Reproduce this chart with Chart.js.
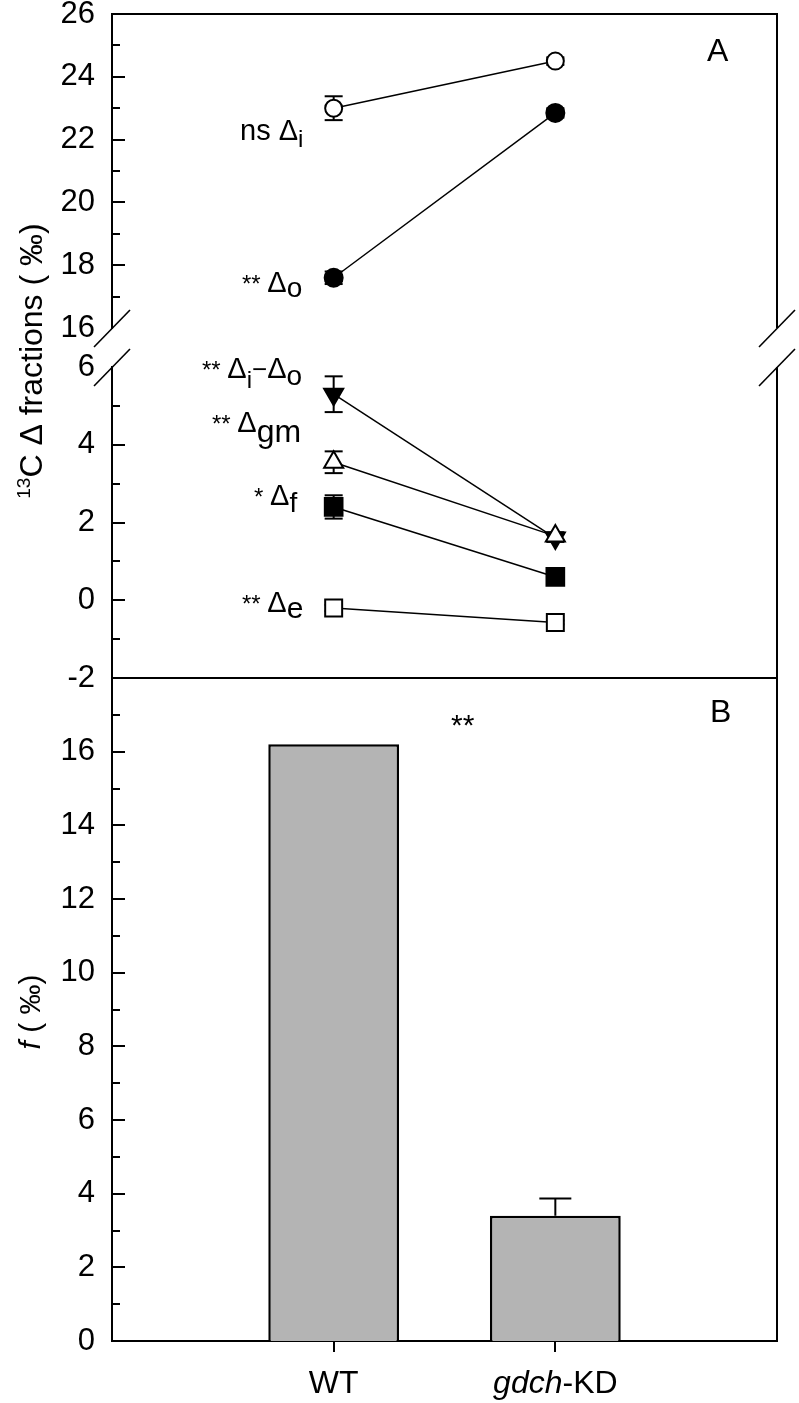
<!DOCTYPE html>
<html>
<head>
<meta charset="utf-8">
<script src="https://cdn.jsdelivr.net/npm/chart.js@4.4.1/dist/chart.umd.min.js"></script>
<style>
  html, body { margin: 0; padding: 0; background: #fff; }
  #wrap { position: relative; width: 799px; height: 1403px; }
  #wrap canvas { position: absolute; left: 0; top: 0; }
</style>
</head>
<body>
<div id="wrap">
  <canvas id="chartTop" width="799" height="1403"></canvas>
  <canvas id="chartLow" width="799" height="1403"></canvas>
  <canvas id="chartF" width="799" height="1403"></canvas>
</div>
<script>
const categories = ['WT', 'gdch-KD'];

// panel A, upper part of the broken axis (16-26 ‰)
const deltaI = [23.0, 24.5];
const deltaIErr = [0.38, 0.12];
const deltaO = [17.6, 22.85];
const deltaOErr = [0.2, 0.15];

// panel A, lower part (-2 to 6 ‰)
const deltaIminusO = [5.3, 1.6];
const deltaIminusOErr = [0.46, 0.1];
const deltaGm = [3.55, 1.65];
const deltaGmErr = [0.28, 0.1];
const deltaF = [2.4, 0.6];
const deltaFErr = [0.3, 0.1];
const deltaE = [-0.2, -0.57];
const deltaEErr = [0.08, 0.05];

// panel B
const fValues = [16.2, 3.4];
const fErr = [0, 0.47];

const topTicks = [16, 18, 20, 22, 24, 26];
const lowTicks = [-2, 0, 2, 4, 6];
const fTicks = [0, 2, 4, 6, 8, 10, 12, 14, 16, 18];
const fTickLabels = ['0', '2', '4', '6', '8', '10', '12', '14', '16', ''];

const FONT = '"Liberation Sans", Arial, sans-serif';
const PLOT_LEFT = 112;
const PLOT_RIGHT = 777;
const H = 1403;

// two empty slots at the ends put WT / gdch-KD at 1/3 and 2/3 of the width
const xLabels = ['', ...categories, ''];
const pad = v => [null, ...v, null];

function drawRun(ctx, x, y, parts) {
  ctx.textAlign = 'left';
  ctx.textBaseline = 'alphabetic';
  for (const [t, px, dy, it] of parts) {
    ctx.font = (it ? 'italic ' : '') + px + 'px ' + FONT;
    ctx.fillText(t, x, y + (dy || 0));
    x += ctx.measureText(t).width;
  }
}
function runWidth(ctx, parts) {
  let w = 0;
  for (const [t, px, dy, it] of parts) {
    ctx.font = (it ? 'italic ' : '') + px + 'px ' + FONT;
    w += ctx.measureText(t).width;
  }
  return w;
}
function line(ctx, x1, y1, x2, y2) {
  ctx.beginPath();
  ctx.moveTo(x1, y1);
  ctx.lineTo(x2, y2);
  ctx.stroke();
}

const errorBars = {
  id: 'errorBars',
  beforeDatasetsDraw(chart) {
    const ctx = chart.ctx;
    const ys = chart.scales.y;
    ctx.save();
    ctx.strokeStyle = '#000';
    ctx.lineWidth = 2;
    chart.data.datasets.forEach((ds, i) => {
      if (!ds.errors) return;
      const meta = chart.getDatasetMeta(i);
      const half = (ds.capWidth || 18) / 2;
      meta.data.forEach((el, j) => {
        const v = ds.data[j];
        if (v === null || v === undefined) return;
        const e = ds.errors[j - 1];
        if (!e) return;
        const x = el.x;
        const yHi = ys.getPixelForValue(v + e);
        const yLo = ys.getPixelForValue(ds.upOnly ? v : v - e);
        line(ctx, x, yLo, x, yHi);
        line(ctx, x - half, yHi, x + half, yHi);
        if (!ds.upOnly) line(ctx, x - half, yLo, x + half, yLo);
      });
    });
    ctx.restore();
  }
};

// major / minor tick marks pointing into the plot
const innerTicks = {
  id: 'innerTicks',
  afterDraw(chart, args, opts) {
    const ctx = chart.ctx;
    const s = chart.scales.y;
    const left = chart.chartArea.left;
    ctx.save();
    ctx.strokeStyle = '#000';
    ctx.lineWidth = 2;
    const major = opts.major;
    major.forEach((v, k) => {
      if (v > s.min && v < s.max) {
        const y = Math.round(s.getPixelForValue(v));
        line(ctx, left, y, left + 13, y);
      }
      if (k < major.length - 1) {
        const y = Math.round(s.getPixelForValue((v + major[k + 1]) / 2));
        line(ctx, left, y, left + 8, y);
      }
    });
    ctx.restore();
  }
};

// box edges and the // marks of the axis break
const frame = {
  id: 'frame',
  afterDraw(chart, args, opts) {
    const ctx = chart.ctx;
    const a = chart.chartArea;
    ctx.save();
    ctx.strokeStyle = '#000';
    ctx.lineWidth = 2;
    if (opts.top) line(ctx, a.left - 1, a.top, a.right + 1, a.top);
    if (opts.bottom) line(ctx, a.left - 1, a.bottom, a.right + 1, a.bottom);
    if (opts.right) line(ctx, a.right, a.top, a.right, a.bottom);
    if (opts.breakAt) {
      const y = opts.breakAt === 'top' ? a.top : a.bottom;
      ctx.lineWidth = 1.6;
      [a.left, a.right].forEach(x => line(ctx, x - 18, y + 19, x + 18, y - 18));
    }
    ctx.restore();
  }
};

function yAxis(min, max, ticks, labels) {
  return {
    type: 'linear',
    min: min,
    max: max,
    afterBuildTicks: s => { s.ticks = ticks.map(v => ({ value: v })); },
    afterFit: s => { s.width = PLOT_LEFT; s.paddingTop = 0; s.paddingBottom = 0; },
    grid: { display: false, drawTicks: false },
    border: { display: true, color: '#000', width: 2 },
    ticks: {
      color: '#000',
      padding: 17,
      font: { family: FONT, size: 31 },
      callback: (v, i) => labels ? labels[i] : String(v)
    }
  };
}

function series(values, errs, style, fill, radius, rotation) {
  return {
    data: pad(values),
    errors: errs,
    borderColor: '#000',
    borderWidth: 1.5,
    pointStyle: style,
    pointRotation: rotation || 0,
    pointRadius: radius,
    pointHoverRadius: radius,
    pointBackgroundColor: fill,
    pointBorderColor: '#000',
    pointBorderWidth: 2,
    fill: false,
    tension: 0
  };
}

function baseOptions(padTop, padBottom, yOpts, extraPlugins) {
  return {
    responsive: false,
    animation: false,
    devicePixelRatio: 1,
    layout: { autoPadding: false, padding: { top: padTop, bottom: padBottom, left: 0, right: 799 - PLOT_RIGHT } },
    scales: {
      x: { type: 'category', offset: false, display: false },
      y: yOpts
    },
    plugins: Object.assign({ legend: { display: false }, tooltip: { enabled: false } }, extraPlugins)
  };
}

// ---- panel A, upper segment ----
const topText = {
  id: 'topText',
  afterDraw(chart) {
    const ctx = chart.ctx;
    ctx.save();
    ctx.fillStyle = '#000';
    drawRun(ctx, 240, 140, [['ns ', 29], ['Δ', 29], ['i', 24, 7]]);
    drawRun(ctx, 242, 292, [['** ', 24], ['Δ', 29], ['o', 28, 5]]);
    drawRun(ctx, 707, 61, [['A', 32]]);
    // y title of panel A
    const parts = [['13', 19, -12], ['C Δ fractions ( ‰)', 32]];
    ctx.translate(42, 361);
    ctx.rotate(-Math.PI / 2);
    drawRun(ctx, -runWidth(ctx, parts) / 2, 0, parts);
    ctx.restore();
  }
};

new Chart(document.getElementById('chartTop'), {
  type: 'line',
  data: {
    labels: xLabels,
    datasets: [
      series(deltaI, deltaIErr, 'circle', '#fff', 8.5),
      series(deltaO, deltaOErr, 'circle', '#000', 9)
    ]
  },
  options: baseOptions(14, H - 328, yAxis(16, 26, topTicks),
    { innerTicks: { major: topTicks }, frame: { top: true, right: true, breakAt: 'bottom' } }),
  plugins: [errorBars, innerTicks, frame, topText]
});

// ---- panel A, lower segment ----
const lowText = {
  id: 'lowText',
  afterDraw(chart) {
    const ctx = chart.ctx;
    ctx.save();
    ctx.fillStyle = '#000';
    drawRun(ctx, 202, 378, [['** ', 24], ['Δ', 29], ['i', 24, 10], ['−', 26], ['Δ', 29], ['o', 28, 7]]);
    drawRun(ctx, 212, 432, [['** ', 24], ['Δ', 29], ['gm', 32, 10]]);
    drawRun(ctx, 254, 505, [['* ', 24], ['Δ', 29], ['f', 28, 7]]);
    drawRun(ctx, 242, 612, [['** ', 24], ['Δ', 29], ['e', 30, 6]]);
    ctx.restore();
  }
};

new Chart(document.getElementById('chartLow'), {
  type: 'line',
  data: {
    labels: xLabels,
    datasets: [
      series(deltaGm, deltaGmErr, 'triangle', '#fff', 11),
      series(deltaIminusO, deltaIminusOErr, 'triangle', '#000', 11, 180),
      series(deltaF, deltaFErr, 'rect', '#000', 12.5),
      series(deltaE, deltaEErr, 'rect', '#fff', 12)
    ]
  },
  options: baseOptions(367, H - 678, yAxis(-2, 6, lowTicks),
    { innerTicks: { major: lowTicks }, frame: { bottom: true, right: true, breakAt: 'top' } }),
  plugins: [errorBars, innerTicks, frame, lowText]
});

// ---- panel B ----
const fText = {
  id: 'fText',
  afterDraw(chart) {
    const ctx = chart.ctx;
    const xs = chart.scales.x;
    ctx.save();
    ctx.fillStyle = '#000';
    drawRun(ctx, 710, 722, [['B', 32]]);
    drawRun(ctx, 451, 735, [['**', 30]]);
    categories.forEach((c, i) => {
      const k = c.indexOf('-');
      const parts = k > 0 ? [[c.slice(0, k), 32, 0, true], [c.slice(k), 32]] : [[c, 32]];
      drawRun(ctx, xs.getPixelForValue(i + 1) - runWidth(ctx, parts) / 2, 1393, parts);
    });
    const title = [['f', 30, 0, true], [' ( ‰)', 30]];
    ctx.translate(40, 1012);
    ctx.rotate(-Math.PI / 2);
    drawRun(ctx, -runWidth(ctx, title) / 2, 0, title);
    ctx.restore();
  }
};

const fOptions = baseOptions(678, 0, yAxis(0, 18, fTicks, fTickLabels),
  { innerTicks: { major: fTicks }, frame: { top: true, right: true } });
fOptions.scales.x = {
  type: 'category',
  offset: false,
  afterFit: s => { s.height = H - 1341; s.paddingLeft = 0; s.paddingRight = 0; },
  grid: {
    display: true,
    offset: false,
    drawOnChartArea: false,
    drawTicks: true,
    tickLength: 11,
    lineWidth: 2,
    color: c => (c.index === 1 || c.index === 2) ? '#000' : 'rgba(0,0,0,0)'
  },
  border: { display: true, color: '#000', width: 2 },
  ticks: { display: false }
};

new Chart(document.getElementById('chartF'), {
  type: 'bar',
  data: {
    labels: xLabels,
    datasets: [{
      data: pad(fValues),
      errors: fErr,
      upOnly: true,
      capWidth: 32,
      backgroundColor: '#b4b4b4',
      borderColor: '#000',
      borderWidth: 2.5,
      barPercentage: 0.59,
      categoryPercentage: 1
    }]
  },
  options: fOptions,
  plugins: [errorBars, innerTicks, frame, fText]
});
</script>
</body>
</html>
